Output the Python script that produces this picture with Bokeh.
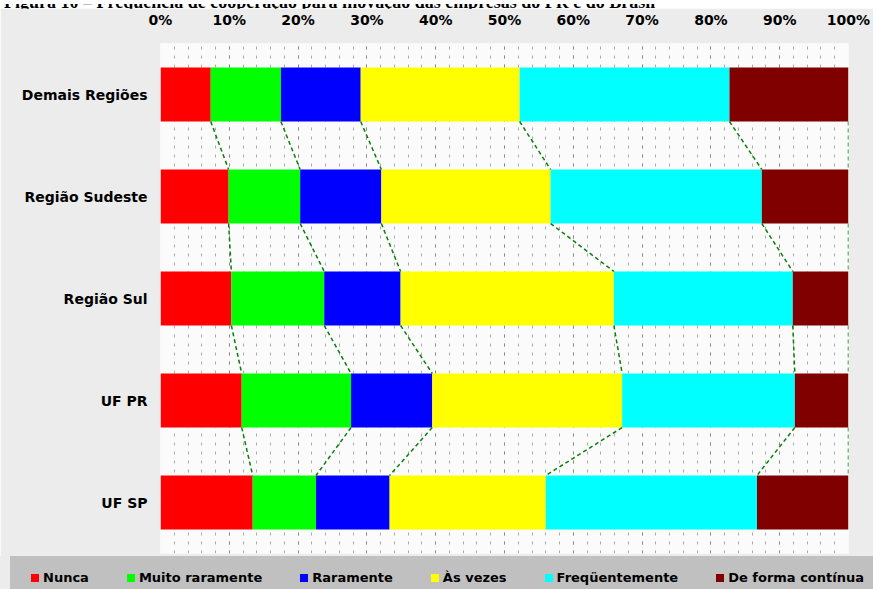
from bokeh.plotting import figure
from bokeh.models import (ColumnDataSource, FactorRange, Range1d, FixedTicker,
                          PrintfTickFormatter, Div)
from bokeh.layouts import column
from bokeh.transform import dodge
from bokeh.embed import file_html
from bokeh.resources import INLINE
import numpy as np

# Categories (top to bottom) and answer series
categories = ["Demais Regiões", "Região Sudeste", "Região Sul", "UF PR", "UF SP"]
series = ["Nunca", "Muito raramente", "Raramente", "Às vezes",
          "Freqüentemente", "De forma contínua"]

# Percentages per category, one list per series
nunca = [7.3, 9.9, 10.3, 11.8, 13.4]
muito_raramente = [10.2, 10.4, 13.5, 15.9, 9.2]
raramente = [11.6, 11.8, 11.1, 11.8, 10.7]
as_vezes = [23.1, 24.6, 31.0, 27.6, 22.7]
frequentemente = [30.5, 30.7, 26.0, 25.1, 30.7]
continua = [17.3, 12.6, 8.1, 7.8, 13.3]

x_ticks = list(range(0, 101, 10))
x_minor = list(range(0, 101, 2))

caption = "Figura 10 – Frequência de cooperação para inovação das empresas do PR e do Brasil"

colors = ["#FF0000", "#00FF00", "#0000FF", "#FFFF00", "#00FFFF", "#800000"]
label_font = "DejaVu Sans"
bar_height = 0.53

values = [nunca, muito_raramente, raramente, as_vezes, frequentemente, continua]
keys = [f"s{i}" for i in range(len(series))]
data = {"cat": categories}
for k, v in zip(keys, values):
    data[k] = v
source = ColumnDataSource(data)

# Caption line, only its lower edge shows above the chart
caption_div = Div(
    text=(f'<div style="height:8px;width:873px;overflow:hidden;background:#ffffff;">'
          f'<div style="margin:-11px 0 0 4px;white-space:nowrap;'
          f'font-family:\'Liberation Serif\';font-weight:bold;font-size:18px;'
          f'line-height:18px;color:#000000;">{caption}</div></div>'),
    width=873, height=8, margin=0)

p = figure(width=873, height=548,
           y_range=FactorRange(*reversed(categories)),
           x_range=Range1d(0, 100),
           x_axis_location="above",
           output_backend="svg", toolbar_location=None,
           min_border_left=160, min_border_right=25,
           min_border_top=34, min_border_bottom=3,
           background_fill_color="#fbfbfb", border_fill_color="#ececec",
           outline_line_color=None)

# Vertical dashed grid every 2 %, stronger every 10 %
xaxis = p.xaxis[0]
xaxis.ticker = FixedTicker(ticks=x_ticks, minor_ticks=x_minor)
xaxis.formatter = PrintfTickFormatter(format="%d%%")
xaxis.axis_line_color = None
xaxis.major_tick_line_color = None
xaxis.minor_tick_line_color = None
xaxis.major_label_text_font = label_font
xaxis.major_label_text_font_style = "bold"
xaxis.major_label_text_font_size = "14px"
xaxis.major_label_text_line_height = 1.0
xaxis.major_label_text_color = "#000000"
xaxis.major_label_standoff = 10

yaxis = p.yaxis[0]
yaxis.axis_line_color = None
yaxis.major_tick_line_color = None
yaxis.minor_tick_line_color = None
yaxis.major_label_text_font = label_font
yaxis.major_label_text_font_style = "bold"
yaxis.major_label_text_font_size = "14px"
yaxis.major_label_text_color = "#000000"
yaxis.major_label_standoff = 7

p.ygrid.grid_line_color = None
p.xgrid.grid_line_color = "#8a8a8a"
p.xgrid.grid_line_dash = "3 6"
p.xgrid.minor_grid_line_color = "#ababab"
p.xgrid.minor_grid_line_dash = "3 6"

p.hbar_stack(keys, y="cat", height=bar_height, color=colors,
             line_color=None, source=source)

# Series lines joining the stacked boundaries of neighbouring bars
cum = np.cumsum(np.array(values), axis=0)
seg = {"x0": [], "y0": [], "x1": [], "y1": []}
for i in range(len(categories) - 1):
    for k in range(len(series)):
        seg["x0"].append(float(cum[k][i]))
        seg["y0"].append(categories[i])
        seg["x1"].append(float(cum[k][i + 1]))
        seg["y1"].append(categories[i + 1])
p.segment(x0="x0", x1="x1",
          y0=dodge("y0", -bar_height / 2, range=p.y_range),
          y1=dodge("y1", bar_height / 2, range=p.y_range),
          source=ColumnDataSource(seg),
          line_color="#0a7d0a", line_width=1.5, line_dash="4 3")

# Legend strip: coloured squares with the series names
entries = "".join(
    f'<span style="display:inline-flex;align-items:center;margin-right:38px;">'
    f'<span style="display:inline-block;width:8px;height:8px;background:{c};'
    f'margin-right:4px;"></span>{name}</span>'
    for name, c in zip(series, colors))
legend_div = Div(
    text=(f'<div style="width:873px;height:33px;background:#ececec;">'
          f'<div style="margin-left:10px;height:33px;background:#c0c0c0;'
          f'box-sizing:border-box;padding:15px 0 0 21px;white-space:nowrap;'
          f'overflow:hidden;font-family:\'{label_font}\';font-weight:bold;'
          f'font-size:13px;line-height:14px;color:#000000;">{entries}</div></div>'),
    width=873, height=33, margin=0)

layout = column(caption_div, p, legend_div, spacing=0)
open("out.html", "w").write(file_html(layout, INLINE))
